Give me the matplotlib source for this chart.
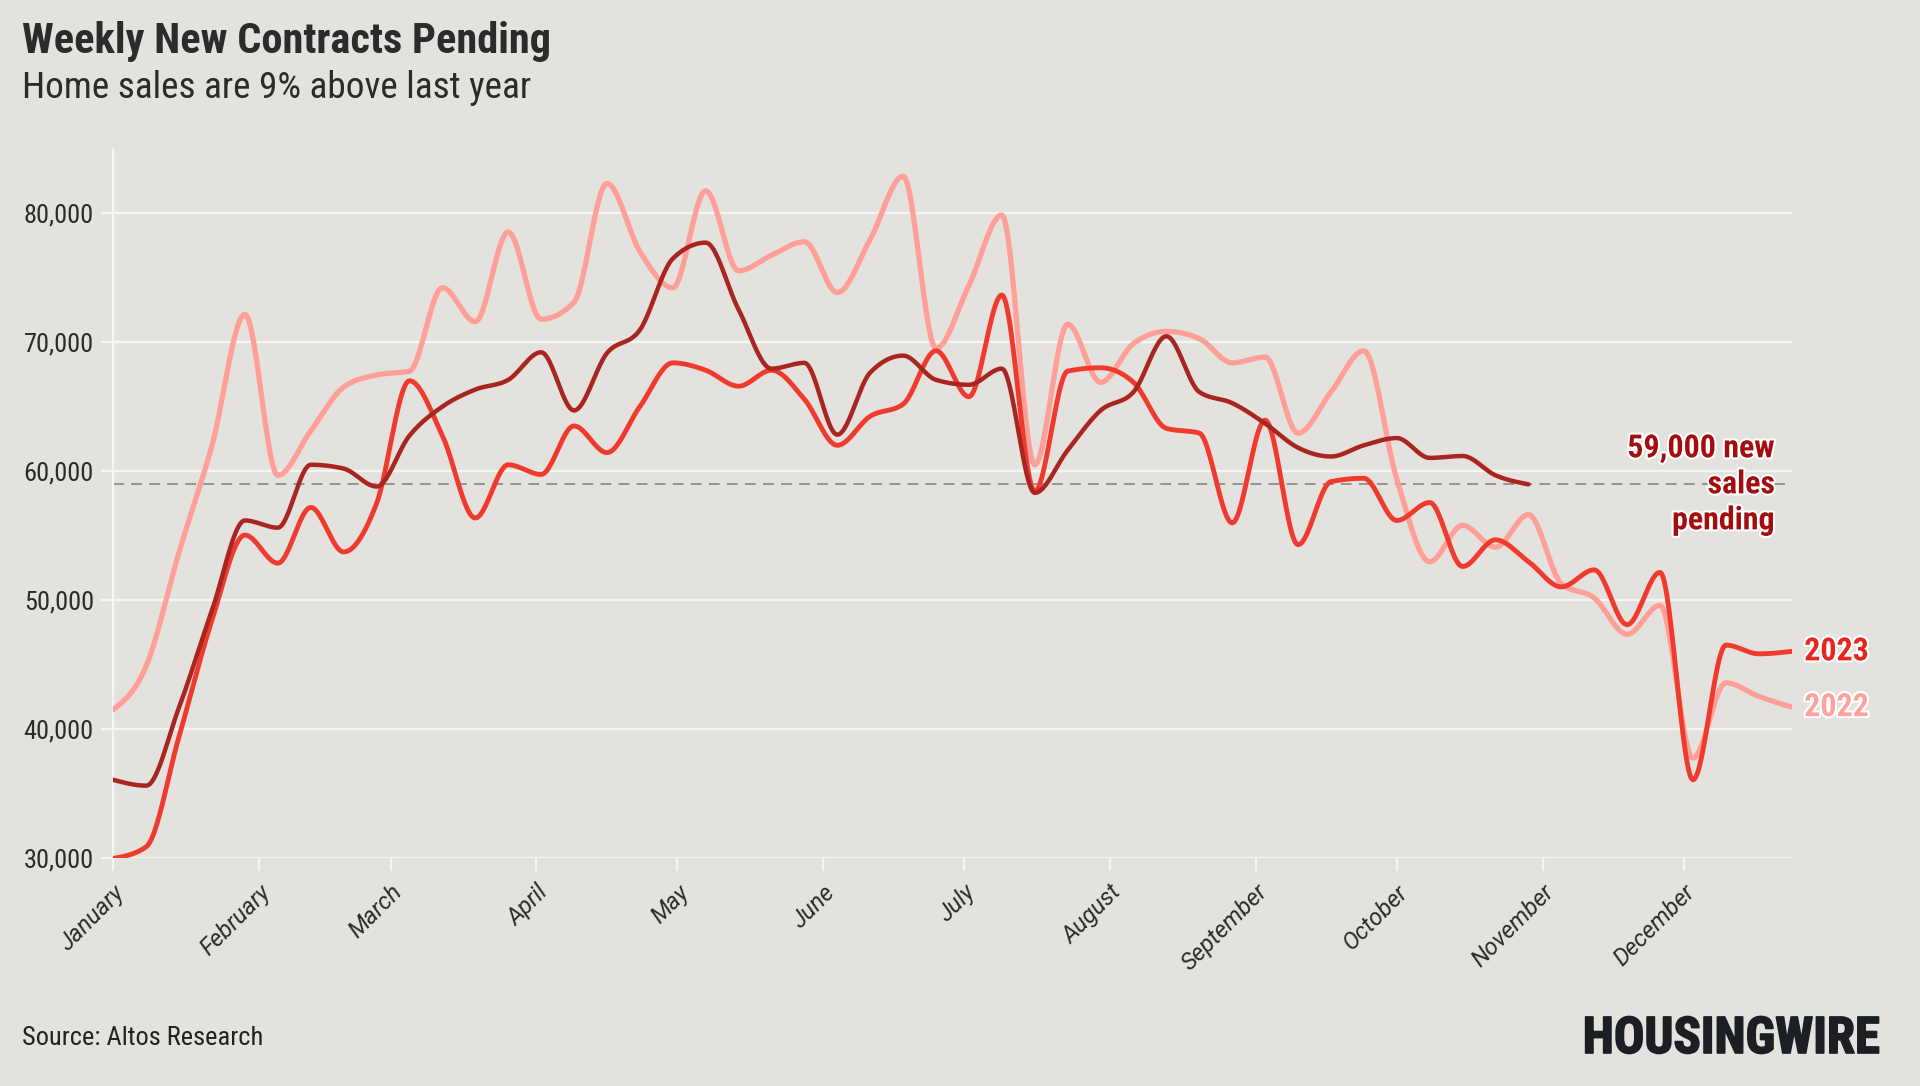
import numpy as np
import pandas as pd
import matplotlib
matplotlib.use("Agg")
import matplotlib.pyplot as plt
import matplotlib.patheffects as pe

# ---------------- data ----------------
months = ["January", "February", "March", "April", "May", "June", "July",
          "August", "September", "October", "November", "December"]

v2022 = [41540, 44920, 53760, 62030, 72180, 59700, 63150, 66540, 67480, 67780, 74240, 71610,
         78570, 71800, 73120, 82330, 77060, 74240, 81760, 75560, 76760, 77810, 73870, 78000,
         82890, 69550, 74430, 79880, 60520, 71420, 66910, 69920, 70860, 70300, 68420, 68870,
         62970, 66160, 69360, 59400, 53000, 55820, 54130, 56650, 51310, 50190, 47370, 49620,
         37780, 43610, 42560, 41730]
v2023 = [30000, 30900, 39470, 48490, 55070, 52890, 57210, 53760, 57520, 67030, 62780, 56390,
         60520, 59770, 63530, 61460, 65030, 68420, 67850, 66610, 67850, 65600, 62030, 64280,
         65220, 69360, 65790, 73680, 58460, 67780, 68040, 66910, 63340, 62970, 56010, 63980,
         54320, 59210, 59470, 56200, 57590, 52630, 54700, 53010, 51050, 52370, 48120, 52180,
         36090, 46540, 45860, 46050]
v2024 = [36090, 35640, 41730, 49250, 56200, 55640, 60520, 60220, 58830, 62780, 65030, 66350,
         67100, 69240, 64730, 69170, 70970, 76500, 77740, 72550, 67970, 68420, 62850, 67670,
         68980, 67100, 66720, 67970, 58340, 61650, 64730, 66160, 70480, 66160, 65300, 63720,
         61840, 61160, 62030, 62590, 61050, 61200, 59700, 59000]
current_level = 59000
y_ticks = [30000, 40000, 50000, 60000, 70000, 80000]

# ---------------- style ----------------
BG = "#e3e2de"
GRID = "#f5f5f3"
C22 = "#ff9f98"
C23 = "#ef3a2d"
C24 = "#a8261f"
TXT = "#2b2b2b"
COND = ["Roboto Condensed", "Roboto", "DejaVu Sans"]

W, H = 1920, 1086


def monotone_curve(x, y, n=24):
    """d3-style monotoneX curve through the data points (drawing helper)."""
    x = np.asarray(x, float)
    y = np.asarray(y, float)
    h = np.diff(x)
    s = np.diff(y) / h
    m = np.zeros_like(y)
    for i in range(1, len(y) - 1):
        h0, h1 = h[i - 1], h[i]
        s0, s1 = s[i - 1], s[i]
        p = (s0 * h1 + s1 * h0) / (h0 + h1)
        m[i] = (np.sign(s0) + np.sign(s1)) * min(abs(s0), abs(s1), 0.5 * abs(p))
    m[0] = (3 * s[0] - m[1]) / 2
    m[-1] = (3 * s[-1] - m[-2]) / 2
    xs, ys = [], []
    t = np.linspace(0, 1, n, endpoint=False)
    for i in range(len(x) - 1):
        hh = h[i]
        h00 = 2 * t**3 - 3 * t**2 + 1
        h10 = t**3 - 2 * t**2 + t
        h01 = -2 * t**3 + 3 * t**2
        h11 = t**3 - t**2
        xs.append(x[i] + t * hh)
        ys.append(h00 * y[i] + h10 * hh * m[i] + h01 * y[i + 1] + h11 * hh * m[i + 1])
    xs.append([x[-1]])
    ys.append([y[-1]])
    return np.concatenate(xs), np.concatenate(ys)


week_days = np.arange(len(v2022)) * 7
month_days = (pd.date_range("2023-01-01", periods=12, freq="MS").dayofyear - 1).to_numpy()

fig = plt.figure(figsize=(W / 100, H / 100), dpi=100, facecolor=BG)
ax = fig.add_axes([113.3 / W, 1 - 858.4 / H, (1791.7 - 113.3) / W, (858.4 - 149) / H])
ax.set_facecolor(BG)
ax.set_xlim(0, week_days[-1])
ax.set_ylim(30000, 85000)

ax.set_yticks(y_ticks)
ax.set_yticklabels([f"{v:,}" for v in y_ticks])
ax.set_xticks(month_days)
ax.set_xticklabels(months)
ax.grid(axis="y", color=GRID, lw=1.7, zorder=0)
ax.set_axisbelow(True)
for side in ["top", "right", "bottom"]:
    ax.spines[side].set_visible(False)
ax.spines["left"].set_color(GRID)
ax.spines["left"].set_linewidth(1.7)
ax.tick_params(axis="both", color=GRID, length=9, width=1.7, direction="out")
ax.tick_params(axis="y", pad=5, labelsize=19, labelcolor=TXT)
ax.tick_params(axis="x", pad=7, labelsize=17, labelcolor=TXT)
for lbl in ax.get_yticklabels():
    lbl.set_fontfamily(COND)
for lbl in ax.get_xticklabels():
    lbl.set_fontfamily(["Roboto", "DejaVu Sans"])
    lbl.set_fontstyle("italic")
    lbl.set_rotation(45)
    lbl.set_ha("right")
    lbl.set_va("top")
    lbl.set_rotation_mode("anchor")

ax.axhline(current_level, color="#8d8d8b", lw=1.3, dashes=(6, 4), zorder=2)

for vals, col, lw, z in [(v2022, C22, 3.8, 3), (v2023, C23, 3.5, 4), (v2024, C24, 3.2, 5)]:
    xs, ys = monotone_curve(week_days[:len(vals)], vals)
    ax.plot(xs, ys, color=col, lw=lw, zorder=z, solid_capstyle="round", solid_joinstyle="round")

halo = [pe.withStroke(linewidth=3, foreground="white")]
ax.annotate("2023", xy=(week_days[-1], v2023[-1]), xytext=(9, 0), textcoords="offset points",
            ha="left", va="center", fontsize=23, fontweight="bold", family=COND, color="#e8261c",
            path_effects=halo, annotation_clip=False, zorder=6)
ax.annotate("2022", xy=(week_days[-1], v2022[-1]), xytext=(9, 0), textcoords="offset points",
            ha="left", va="center", fontsize=23, fontweight="bold", family=COND, color="#ffa19b",
            path_effects=halo, annotation_clip=False, zorder=6)
ax.annotate(f"{current_level:,} new\nsales\npending", xy=(week_days[-1], current_level),
            xytext=(-12, 0), textcoords="offset points", ha="right", va="center",
            multialignment="right", linespacing=1.25, fontsize=23, fontweight="bold",
            family=COND, color="#a30d0d", path_effects=halo, zorder=6)

fig.text(22 / W, 1 - 21 / H, "Weekly New Contracts Pending", ha="left", va="top",
         fontsize=30.5, fontweight="bold", family=COND, color=TXT)
fig.text(22 / W, 1 - 70 / H, "Home sales are 9% above last year", ha="left", va="top",
         fontsize=26.8, family=COND, color=TXT)
fig.text(22 / W, 1 - 1038 / H, "Source: Altos Research", ha="left", va="center",
         fontsize=19, family=COND, color="#222222")
fig.text(1880 / W, 1 - 1039 / H, "HOUSINGWIRE", ha="right", va="center",
         fontsize=36.5, fontweight="bold", family=COND, color="#1b1e22",
         path_effects=[pe.withStroke(linewidth=1.2, foreground="#1b1e22")])

fig.savefig("out.png", dpi=100, facecolor=BG)
